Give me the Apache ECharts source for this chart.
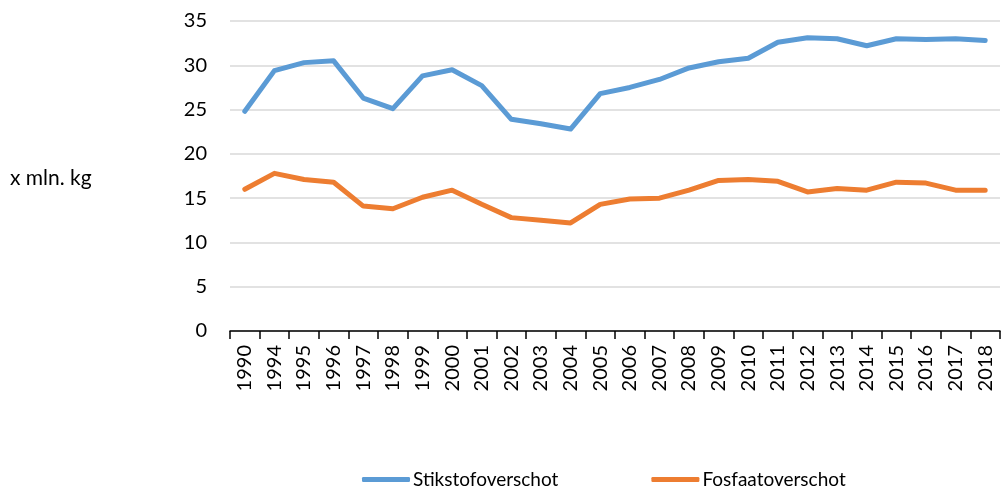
<!DOCTYPE html>
<html>
<head>
<meta charset="utf-8">
<script src="https://cdn.jsdelivr.net/npm/echarts@6/dist/echarts.min.js"></script>
<style>
	html, body { margin: 0; padding: 0; background: #fff; }
	#chart { width: 1004px; height: 489px; }
</style>
</head>
<body>
<div id="chart"></div>
<script>
// jaren
var years = ['1990', '1994', '1995', '1996', '1997', '1998', '1999', '2000', '2001', '2002', '2003', '2004', '2005',
	'2006', '2007', '2008', '2009', '2010', '2011', '2012', '2013', '2014', '2015', '2016', '2017', '2018'];

// stikstof, x mln. kg
var stikstof = [24.8, 29.4, 30.3, 30.5, 26.3, 25.1, 28.8, 29.5, 27.7, 23.9, 23.4, 22.8, 26.8,
	27.5, 28.4, 29.7, 30.4, 30.8, 32.6, 33.1, 33.0, 32.2, 33.0, 32.9, 33.0, 32.8];

// fosfaat, x mln. kg
var fosfaat = [16.0, 17.8, 17.1, 16.8, 14.1, 13.8, 15.1, 15.9, 14.3, 12.8, 12.5, 12.2, 14.3,
	14.9, 15.0, 15.9, 17.0, 17.1, 16.9, 15.7, 16.1, 15.9, 16.8, 16.7, 15.9, 15.9];

var seriesNames = ['Stikstofoverschot', 'Fosfaatoverschot'];
var yTicks = [0, 5, 10, 15, 20, 25, 30, 35];

var font = 'Lato, "Open Sans", sans-serif';
var myChart = echarts.init(document.getElementById('chart'));

var option = {
	animation: false,
	color: ['#5B9BD5', '#ED7D31'],
	grid: {
		left: 230,
		right: 4,
		top: 21,
		bottom: 158
	},
	graphic: [{
		type: 'text',
		left: 10,
		top: 168,
		style: {
			text: 'x mln. kg',
			font: '21px ' + font,
			fill: '#000'
		}
	}],
	legend: {
		left: 357,
		top: 465,
		itemWidth: 48,
		itemHeight: 5,
		itemGap: 93,
		icon: 'roundRect',
		textStyle: {
			fontFamily: font,
			fontSize: 19,
			color: '#000',
			padding: [0, 0, 0, -2]
		},
		data: seriesNames
	},
	xAxis: {
		type: 'category',
		data: years,
		boundaryGap: true,
		axisLine: { lineStyle: { color: '#000', width: 1.5 } },
		axisTick: { show: true, interval: 0, length: 8, lineStyle: { color: '#000', width: 1.5 } },
		axisLabel: {
			interval: 0,
			rotate: 90,
			margin: 14,
			color: '#000',
			fontFamily: font,
			fontSize: 20
		}
	},
	yAxis: {
		type: 'value',
		min: yTicks[0],
		max: yTicks[yTicks.length - 1],
		interval: 5,
		axisLine: { show: false },
		axisTick: { show: false },
		axisLabel: {
			margin: 8 + 15,
			color: '#000',
			fontFamily: font,
			fontSize: 20
		},
		splitLine: { lineStyle: { color: '#d9d9d9', width: 1.5 } }
	},
	series: [{
		name: seriesNames[0],
		type: 'line',
		data: stikstof,
		symbol: 'none',
		lineStyle: { width: 5, cap: 'round', join: 'round' }
	}, {
		name: seriesNames[1],
		type: 'line',
		data: fosfaat,
		symbol: 'none',
		lineStyle: { width: 5, cap: 'round', join: 'round' }
	}]
};

myChart.setOption(option);
</script>
</body>
</html>
